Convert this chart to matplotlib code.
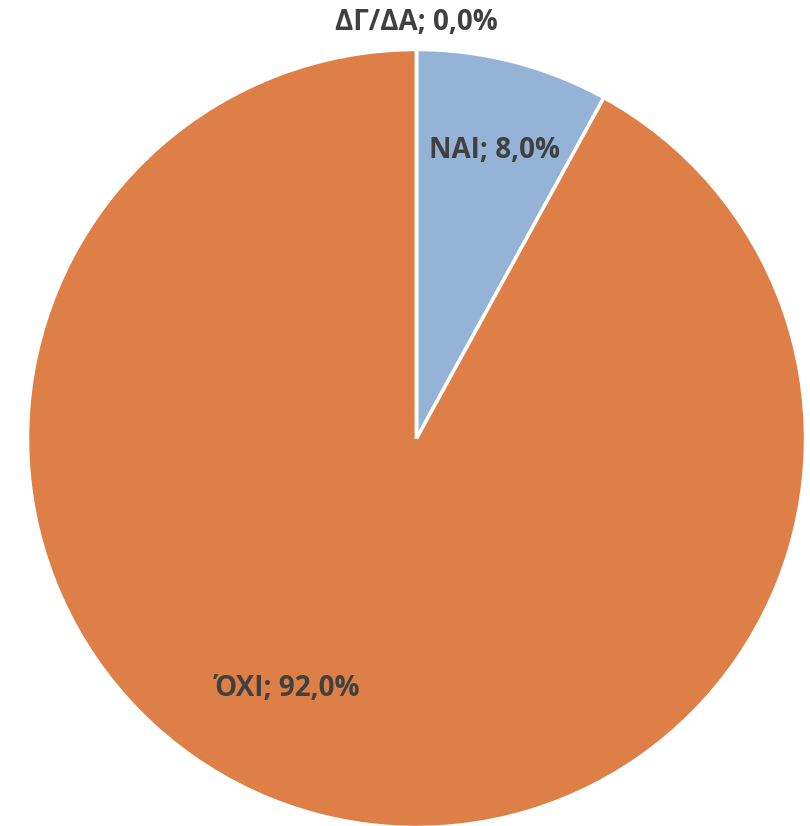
import numpy as np
import matplotlib
matplotlib.use("Agg")
import matplotlib.pyplot as plt

labels = ["ΝΑΙ", "ΌΧΙ", "ΔΓ/ΔΑ"]
values = [8.0, 92.0, 0.0]
colors = ["#95B3D7", "#DD7F47", "#95B3D7"]

# label offsets from pie centre in pixels (x right, y up)
label_pos = [(78, 288), (-129, -250), (0, 416)]

W, H = 810, 826
cx, cy, r = 416.5, H - 438.5, 389

fig = plt.figure(figsize=(W / 100, H / 100), dpi=100)
ax = fig.add_axes([0, 0, 1, 1])
ax.set_xlim(0, W); ax.set_ylim(0, H)
ax.axis("off")

ax.pie(values, colors=colors, startangle=90, counterclock=False,
       center=(cx, cy), radius=r, frame=True,
       wedgeprops=dict(edgecolor="white", linewidth=2.5))
ax.set_xlim(0, W); ax.set_ylim(0, H)
ax.set_aspect("equal")
ax.axis("off")

for lab, v, (dx, dy) in zip(labels, values, label_pos):
    ax.text(cx + dx, cy + dy, f"{lab}; {v:.1f}%".replace(".", ","),
            ha="center", va="center", fontsize=20, fontweight="bold",
            color="#404040", family=["Open Sans", "DejaVu Sans"])

fig.savefig("out.png", dpi=100)
